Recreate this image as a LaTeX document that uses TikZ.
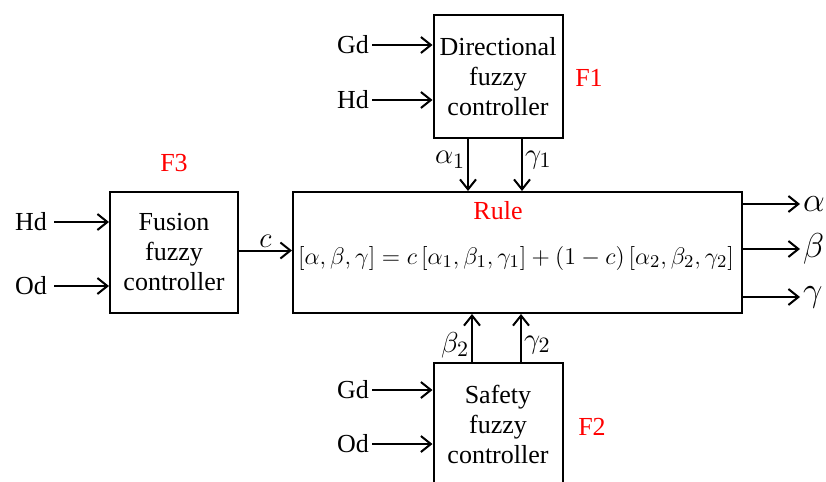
\documentclass[tikz,border=0pt]{standalone}
\usepackage{amsmath,amssymb}
\usepackage{fontspec}
\setmainfont{Liberation Serif}
\usepackage{xcolor}
\usetikzlibrary{arrows.meta,positioning,calc}

\begin{document}
\begin{tikzpicture}[x=0.5pt, y=-0.5pt, line width=1pt, >={Straight Barb[length=5pt,width=8pt]},
    font=\fontsize{13}{15}\selectfont]
  % Define styles
  \tikzstyle{ctrl}=[rectangle, draw, minimum width=64.5pt, minimum height=61.5pt, inner sep=1pt, align=center]
  \tikzstyle{rulebox}=[rectangle, draw, minimum width=224.5pt, minimum height=60.5pt, inner sep=0pt]
  \tikzstyle{tag}=[text=red, inner sep=0pt]
  \tikzstyle{inlabel}=[anchor=east, inner sep=1pt]
  \tikzstyle{outlabel}=[anchor=west, inner sep=1pt, font=\fontsize{16}{18}\selectfont]
  \tikzstyle{sublabel}=[inner sep=1pt, font=\fontsize{15}{17}\selectfont]

  \useasboundingbox (0,0) rectangle (826,482);

  % Nodes
  \node[ctrl]    (F1)   at (498,76.5)   {Directional\\fuzzy\\controller};
  \node[ctrl]    (F2)   at (498,424.5)  {Safety\\fuzzy\\controller};
  \node[ctrl, minimum width=64pt, minimum height=60.5pt] (F3) at (174,252.5) {Fusion\\fuzzy\\controller};
  \node[rulebox] (rule) at (517.5,252.5) {};

  \node[tag] at (589,78)  {F1};
  \node[tag] at (592,427) {F2};
  \node[tag, above=9pt of F3] {F3};
  \node[tag] at (498,211) {Rule};
  \node at (516,258)
    {$\left[\alpha,\beta,\gamma\right]=c\left[\alpha_1,\beta_1,\gamma_1\right]+\left(1-c\right)\left[\alpha_2,\beta_2,\gamma_2\right]$};

  % Inputs
  \node[inlabel] (gd1) at (372,45)  {Gd};
  \node[inlabel] (hd1) at (372,100) {Hd};
  \node[inlabel] (gd2) at (372,390) {Gd};
  \node[inlabel] (od2) at (372,444) {Od};
  \node[inlabel] (hd3) at (50,222)  {Hd};
  \node[inlabel] (od3) at (50,286)  {Od};

  \draw[->] (gd1) -- (gd1 -| F1.west);
  \draw[->] (hd1) -- (hd1 -| F1.west);
  \draw[->] (gd2) -- (gd2 -| F2.west);
  \draw[->] (od2) -- (od2 -| F2.west);
  \draw[->] (hd3.east) ++(2pt,0) -- (hd3 -| F3.west);
  \draw[->] (od3.east) ++(2pt,0) -- (od3 -| F3.west);

  % Edges between blocks
  \draw[->] ([xshift=-15pt]F1.south) -- ([xshift=-15pt]F1.south |- rule.north)
    node[sublabel, pos=0.4, left=0pt] {$\alpha_1$};
  \draw[->] ([xshift=12pt]F1.south) -- ([xshift=12pt]F1.south |- rule.north)
    node[sublabel, pos=0.4, right=0pt] {$\gamma_1$};
  \draw[->] ([xshift=-13pt]F2.north) -- ([xshift=-13pt]F2.north |- rule.south)
    node[sublabel, pos=0.35, left=0pt] {$\beta_2$};
  \draw[->] ([xshift=11.5pt]F2.north) -- ([xshift=11.5pt]F2.north |- rule.south)
    node[sublabel, pos=0.35, right=0pt] {$\gamma_2$};
  \draw[->] ([yshift=1pt]F3.east) -- ([yshift=1pt]F3.east -| rule.west)
    node[sublabel, midway, above=0pt] {$c$};

  % Outputs
  \node[outlabel] (alpha) at (800,204) {$\alpha$};
  \node[outlabel] (beta)  at (800,249) {$\beta$};
  \node[outlabel] (gamma) at (800,297) {$\gamma$};
  \draw[->] (alpha -| rule.east) -- (alpha);
  \draw[->] (beta -| rule.east)  -- (beta);
  \draw[->] (gamma -| rule.east) -- (gamma);
\end{tikzpicture}
\end{document}
